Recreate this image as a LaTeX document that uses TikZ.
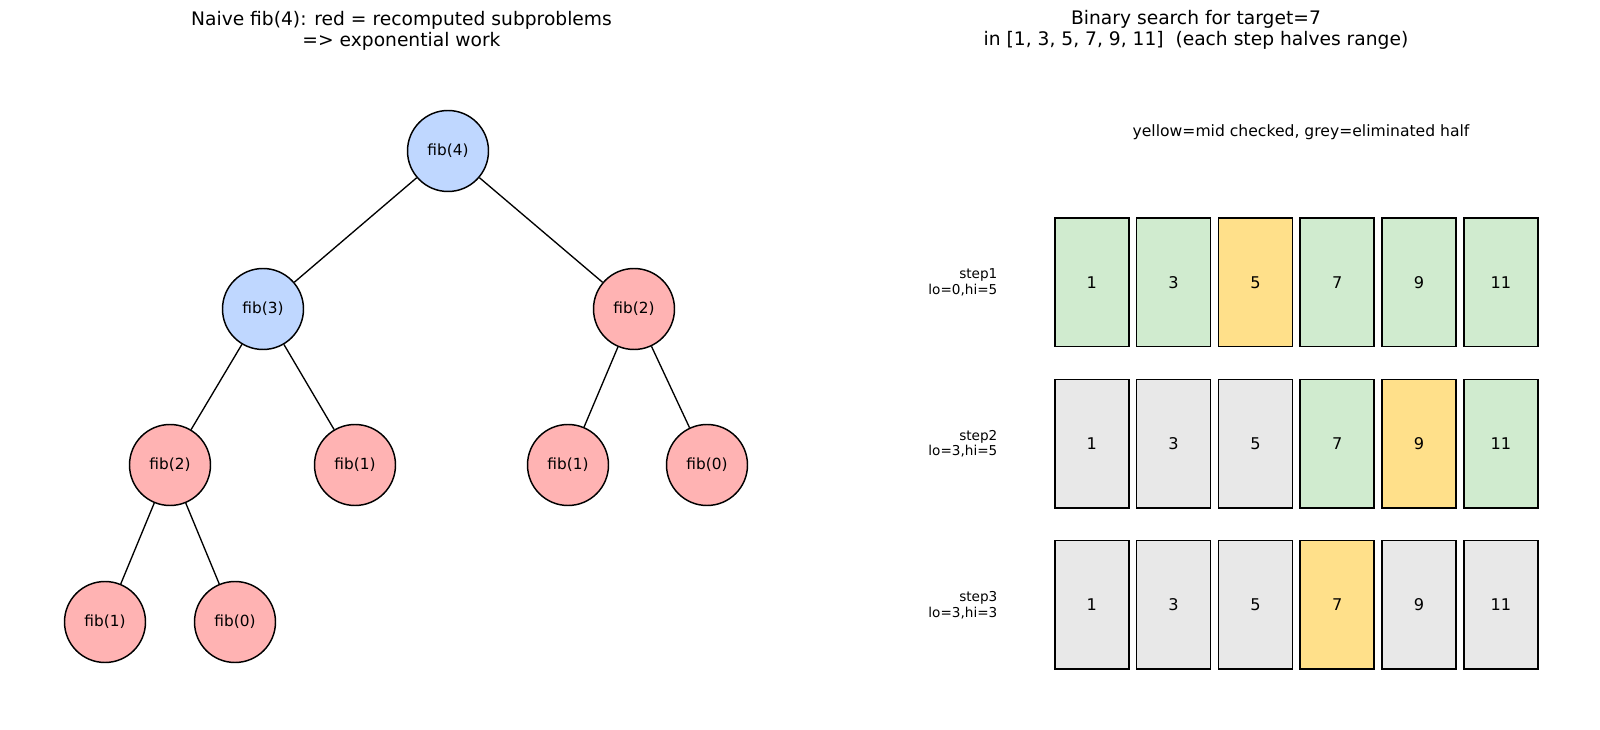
\documentclass[tikz,border=0pt]{standalone}
\usepackage{fontspec}
\setmainfont{DejaVu Sans}
\usetikzlibrary{positioning}
\definecolor{callBlue}{HTML}{BFD7FF}
\definecolor{repeatRed}{HTML}{FFB3B3}
\definecolor{liveGreen}{HTML}{D0EBCF}
\definecolor{midYellow}{HTML}{FFE08A}
\definecolor{deadGrey}{HTML}{E8E8E8}

\begin{document}
\begin{tikzpicture}[x=0.75pt,y=-0.75pt,
fibNode/.style={circle,draw,line width=1.1pt,minimum size=60.75pt,inner sep=0pt,
  font=\fontsize{11.5}{13}\selectfont},
firstCall/.style={fibNode,fill=callBlue},
repeatCall/.style={fibNode,fill=repeatRed},
cell/.style={draw,line width=1.1pt,minimum width=55.5pt,minimum height=96.4pt,
  inner sep=0pt,font=\fontsize{12.1}{14}\selectfont},
stepLabel/.style={align=right,font=\fontsize{10.2}{11.8}\selectfont},
panelTitle/.style={align=center,font=\fontsize{14}{15.5}\selectfont}
]
\useasboundingbox (0,0) rectangle (1600,730);

%titles
\node[panelTitle] (fibTitle) at (401.5,31) {Naive fib(4): red = recomputed subproblems\\=> exponential work};
\node[panelTitle] (searchTitle) at (1196,30) {Binary search for target=7\\in [1, 3, 5, 7, 9, 11]~~(each step halves range)};
\node[font=\fontsize{11.7}{13}\selectfont] (legend) at (1301,132) {yellow=mid checked, grey=eliminated half};

%call tree
\node[firstCall] (fibFour) at (448,151) {fib(4)};
\node[firstCall] (fibThree) at (263,309) {fib(3)};
\node[repeatCall] (fibTwoR) at (634,309) {fib(2)};
\node[repeatCall] (fibTwoL) at (170,465) {fib(2)};
\node[repeatCall] (fibOneA) at (355,465) {fib(1)};
\node[repeatCall] (fibOneB) at (568,465) {fib(1)};
\node[repeatCall] (fibZeroA) at (707,465) {fib(0)};
\node[repeatCall] (fibOneC) at (105,622) {fib(1)};
\node[repeatCall] (fibZeroB) at (235,622) {fib(0)};
\begin{scope}[every path/.style={line width=1pt}]
  \draw (fibFour) -- (fibThree);
  \draw (fibFour) -- (fibTwoR);
  \draw (fibThree) -- (fibTwoL);
  \draw (fibThree) -- (fibOneA);
  \draw (fibTwoR) -- (fibOneB);
  \draw (fibTwoR) -- (fibZeroA);
  \draw (fibTwoL) -- (fibOneC);
  \draw (fibTwoL) -- (fibZeroB);
\end{scope}

%search steps
\foreach \stepNo/\lo/\hi/\colList in {
  1/0/5/{liveGreen,liveGreen,midYellow,liveGreen,liveGreen,liveGreen},
  2/3/5/{deadGrey,deadGrey,deadGrey,liveGreen,midYellow,liveGreen},
  3/3/3/{deadGrey,deadGrey,deadGrey,midYellow,deadGrey,deadGrey}}
{
  \foreach \c [count=\i from 0] in \colList {
    \pgfmathtruncatemacro\v{2*\i+1}
    \node[cell,fill=\c] (cell-\stepNo-\i) at ({1091.8+81.8*\i},{121.3+161.2*\stepNo}) {\v};
  }
  \node[stepLabel,left=39pt of cell-\stepNo-0] (step-\stepNo) {step\stepNo\\lo=\lo,hi=\hi};
}
\end{tikzpicture}
\end{document}
